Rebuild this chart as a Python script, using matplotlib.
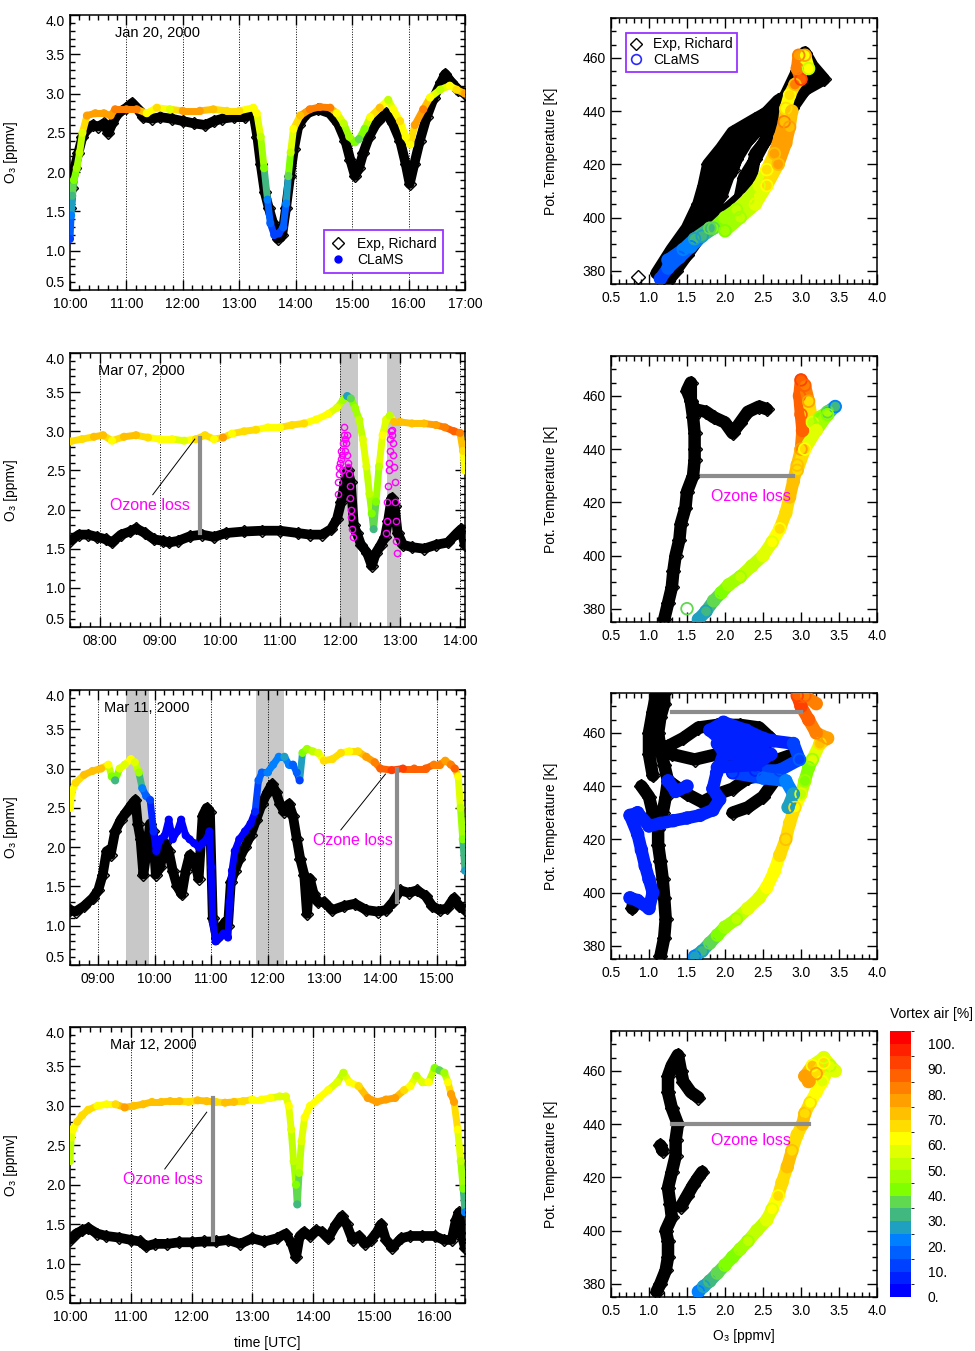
import numpy as np
import matplotlib
matplotlib.use('Agg')
import matplotlib.pyplot as plt
from matplotlib.collections import LineCollection
from matplotlib.colors import ListedColormap, BoundaryNorm
from matplotlib.cm import ScalarMappable
from matplotlib.lines import Line2D
from matplotlib.ticker import MultipleLocator, FuncFormatter, FormatStrFormatter

plt.rcParams['font.family'] = ['Liberation Sans', 'DejaVu Sans']
plt.rcParams['font.size'] = 10

nan = np.nan

# vortex air colour scale, 0..105 % in steps of 5
vortex_colors = ['#0000ff', '#0020ff', '#0040ff', '#0060ff', '#0080ff', '#20a0c0', '#40b880',
                 '#60d850', '#80ff00', '#a0ff00', '#c0ff00', '#e0ff00', '#ffff00', '#ffdd00',
                 '#ffc000', '#ffa000', '#ff8000', '#ff6000', '#ff4000', '#ff2000', '#ff0000']
vortex_bounds = [0, 5, 10, 15, 20, 25, 30, 35, 40, 45, 50, 55, 60, 65, 70, 75, 80, 85, 90, 95, 100, 105]
cbar_ticks = [0, 10, 20, 30, 40, 50, 60, 70, 80, 90, 100]

# ---------------- Jan 20, 2000 ----------------
jan_exp_t = [10.0, 10.03, 10.08, 10.15, 10.22, 10.3, 10.4, 10.5, 10.6, 10.68, 10.75, 10.85, 11.0, 11.1, 11.2,
             11.3, 11.45, 11.6, 11.8, 12.0, 12.2, 12.4, 12.55, 12.7, 12.9, 13.1, 13.25, 13.32, 13.38, 13.45,
             13.52, 13.6, 13.68, 13.76, 13.83, 13.9, 13.97, 14.05, 14.2, 14.4, 14.6, 14.75, 14.88, 14.97, 15.05,
             15.12, 15.2, 15.3, 15.45, 15.6, 15.72, 15.85, 15.95, 16.02, 16.1, 16.2, 16.32, 16.45, 16.58, 16.65,
             16.75, 16.88, 17.0]
jan_exp_o3 = [1.55, 1.8, 2.05, 2.25, 2.45, 2.55, 2.6, 2.58, 2.62, 2.5, 2.62, 2.75, 2.82, 2.88, 2.8,
              2.7, 2.68, 2.7, 2.68, 2.65, 2.62, 2.6, 2.65, 2.68, 2.7, 2.7, 2.75, 2.45, 2.1, 1.75,
              1.55, 1.35, 1.15, 1.2, 1.55, 1.95, 2.3, 2.6, 2.75, 2.8, 2.75, 2.62, 2.4, 2.15, 1.95,
              2.05, 2.25, 2.45, 2.65, 2.75, 2.62, 2.4, 2.1, 1.85, 2.1, 2.4, 2.7, 2.95, 3.15, 3.25,
              3.15, 3.05, 3.0]
jan_mod_t = [10.0, 10.02, 10.04, 10.07, 10.12, 10.17, 10.22, 10.3, 10.45, 10.6, 10.72, 10.8, 11.0, 11.18, 11.36,
             11.54, 11.77, 12.0, 12.3, 12.54, 12.78, 13.0, 13.25, 13.31, 13.38, 13.44, 13.5, 13.55, 13.62, 13.7,
             13.78, 13.83, 13.87, 13.91, 13.96, 14.08, 14.25, 14.43, 14.61, 14.73, 14.85, 14.95, 15.05, 15.12, 15.22,
             15.32, 15.49, 15.64, 15.73, 15.85, 15.95, 16.03, 16.11, 16.26, 16.38, 16.56, 16.73, 16.85, 17.0]
jan_mod_o3 = [1.15, 1.45, 1.7, 1.9, 2.05, 2.25, 2.5, 2.72, 2.75, 2.75, 2.72, 2.8, 2.8, 2.8, 2.75,
              2.82, 2.8, 2.78, 2.78, 2.8, 2.78, 2.78, 2.82, 2.75, 2.45, 2.05, 1.65, 1.35, 1.2, 1.22,
              1.3, 1.6, 1.95, 2.25, 2.55, 2.72, 2.8, 2.83, 2.82, 2.75, 2.62, 2.45, 2.38, 2.42, 2.55,
              2.7, 2.82, 2.92, 2.8, 2.65, 2.45, 2.35, 2.6, 2.8, 2.95, 3.05, 3.1, 3.05, 3.0]
jan_mod_vx = [12, 20, 30, 40, 45, 50, 58, 75, 75, 75, 75, 80, 80, 80, 60,
              65, 55, 75, 75, 70, 65, 65, 62, 60, 52, 42, 22, 15, 10, 10,
              15, 22, 35, 50, 60, 72, 80, 82, 80, 60, 50, 45, 40, 38, 42,
              60, 72, 50, 60, 65, 62, 60, 75, 82, 62, 50, 60, 65, 75]
jan_exp_prof_o3 = [1.1, 1.3, 1.5, 1.65, 1.72, 1.78, 1.95, 2.1, 2.4, 2.65, 2.8, 2.95, 3.0, 3.05, 3.15, 3.3,
                   3.05, 2.88, 2.62, 2.4, 2.35, 2.3, 2.1, 1.9, 1.7, 1.5, 1.35, 1.25, nan,
                   1.3, 1.55, 1.75, 1.95, 2.05, 2.15, 2.3, 2.5, 2.75, 2.95, 3.15, nan,
                   1.85, 2.1, 2.2, 2.4, nan,
                   1.7, 1.8, 1.85, 2.0, 2.25, 2.5, 2.7, nan,
                   2.2, 2.25, 2.4, 2.55, 2.7, nan, 0.85]
jan_exp_prof_th = [379, 388, 396, 405, 412, 420, 426, 432, 437, 441, 446, 455, 460, 462, 457, 452,
                   448, 441, 432, 424, 416, 410, 405, 400, 394, 386, 380, 376, nan,
                   381, 391, 400, 408, 416, 422, 429, 435, 442, 449, 452, nan,
                   412, 418, 426, 432, nan,
                   402, 409, 415, 422, 430, 438, 444, nan,
                   408, 415, 422, 430, 436, nan, 377.5]
jan_mod_prof_o3 = [1.15, 1.25, 1.4, 1.55, 1.7, 1.85, 2.0, 2.15, 2.3, 2.45, 2.55, 2.65, 2.72, 2.78,
                   2.8, 2.85, 2.92, 3.0, 2.95, 2.97, 3.05, 3.1, nan, 2.0, 2.2, 2.4, 2.55, 2.7,
                   2.8, 2.85, 2.88, nan, 1.25, 1.45, 1.6, 1.8]
jan_mod_prof_th = [377, 381, 385, 389, 393, 396, 400, 403, 407, 412, 418, 424, 430, 436,
                   441, 446, 450, 452, 456, 461, 461, 456, nan, 395, 400, 405, 412, 420,
                   428, 434, 440, nan, 384, 388, 392, 396]
jan_mod_prof_vx = [12, 15, 18, 20, 28, 38, 45, 48, 52, 55, 62, 72, 78, 80,
                   65, 62, 70, 90, 80, 80, 75, 50, nan, 42, 48, 55, 60, 72,
                   78, 78, 70, nan, 15, 20, 25, 35]

# ---------------- Mar 07, 2000 ----------------
m07_exp_t = [7.5, 7.65, 7.8, 7.95, 8.1, 8.2, 8.35, 8.5, 8.6, 8.75, 8.9, 9.05, 9.15, 9.3, 9.5, 9.7, 9.9,
             10.1, 10.4, 10.7, 11.0, 11.3, 11.5, 11.7, 11.85, 11.95, 12.02, 12.08, 12.13, 12.18, 12.23,
             12.28, 12.35, 12.45, 12.53, 12.6, 12.68, 12.75, 12.8, 12.86, 12.91, 12.96, 13.05, 13.2, 13.4,
             13.6, 13.8, 13.95, 14.02, 14.08]
m07_exp_o3 = [1.6, 1.68, 1.68, 1.65, 1.62, 1.58, 1.68, 1.72, 1.76, 1.7, 1.62, 1.6, 1.58, 1.6, 1.66, 1.68, 1.65,
              1.7, 1.72, 1.73, 1.73, 1.7, 1.68, 1.68, 1.75, 1.88, 2.1, 2.35, 2.5, 2.35, 1.8,
              1.7, 1.55, 1.45, 1.28, 1.45, 1.55, 1.65, 1.85, 2.15, 2.05, 1.7, 1.55, 1.52, 1.5,
              1.55, 1.58, 1.7, 1.75, 1.55]
m07_mod_t = [7.5, 7.7, 7.9, 8.05, 8.2, 8.4, 8.6, 8.8, 9.0, 9.2, 9.4, 9.6, 9.75, 9.9, 10.05, 10.2, 10.4,
             10.6, 10.8, 11.0, 11.2, 11.4, 11.6, 11.8, 11.95, 12.05, 12.12, 12.18, 12.25, 12.32, 12.38,
             12.44, 12.49, 12.53, 12.56, 12.6, 12.65, 12.71, 12.77, 12.83, 12.9, 13.0, 13.2, 13.4, 13.6,
             13.75, 13.9, 14.0, 14.05, 14.08]
m07_mod_o3 = [2.87, 2.9, 2.93, 2.95, 2.88, 2.93, 2.95, 2.92, 2.9, 2.9, 2.88, 2.9, 2.95, 2.9, 2.92, 2.97, 3.0,
              3.02, 3.05, 3.05, 3.08, 3.1, 3.15, 3.22, 3.3, 3.4, 3.45, 3.42, 3.3, 3.15, 2.9,
              2.55, 2.2, 1.95, 1.75, 2.1, 2.55, 2.95, 3.15, 3.2, 3.12, 3.12, 3.1, 3.1, 3.08,
              3.05, 3.0, 2.98, 2.75, 2.5]
m07_mod_vx = [65, 68, 70, 72, 62, 70, 72, 65, 60, 60, 58, 65, 68, 62, 75, 62, 68,
              65, 62, 62, 68, 65, 62, 60, 58, 48, 25, 38, 45, 50, 55,
              55, 50, 40, 30, 42, 50, 60, 55, 52, 70, 72, 72, 72, 78,
              82, 88, 82, 65, 60]
m07_pas_t = [11.96, 11.97, 11.98, 11.99, 12.0, 12.01, 12.02, 12.03, 12.04, 12.05, 12.06, 12.07, 12.08,
             12.09, 12.1, 12.11, 12.12, 12.13, 12.14, 12.15, 12.16, 12.17, 12.18, 12.19, 12.2, 12.21,
             12.77, 12.78, 12.79, 12.8, 12.81, 12.82, 12.83, 12.84, 12.85, 12.86, 12.87, 12.88, 12.89,
             12.9, 12.91, 12.92, 12.93, 12.94, 12.95]
m07_pas_o3 = [2.2, 2.35, 2.55, 2.45, 2.6, 2.75, 2.65, 2.5, 2.7, 2.85, 2.95, 3.05, 2.9,
              2.75, 2.85, 2.95, 2.7, 2.55, 2.6, 2.45, 2.3, 2.15, 2.0, 1.9, 1.75, 1.65,
              1.7, 1.85, 2.1, 2.3, 2.5, 2.6, 2.75, 2.9, 3.0, 2.95, 3.02, 2.85, 2.7,
              2.55, 2.35, 2.1, 1.85, 1.6, 1.45]
m07_exp_prof_o3 = [1.2, 1.25, 1.3, 1.32, 1.35, 1.4, 1.42, 1.48, 1.5, 1.58, 1.6, 1.6, 1.6, 1.58, 1.55, 1.55,
                   1.5, 1.6, 1.75, 1.85, 2.0, 2.1, 2.2, 2.3, 2.45, 2.55]
m07_exp_prof_th = [376, 382, 388, 394, 400, 406, 412, 418, 424, 430, 436, 440, 446, 452, 458, 465,
                   462, 455, 454, 452, 450, 446, 450, 454, 456, 455]
m07_mod_prof_o3 = [1.65, 1.75, 1.85, 1.95, 2.05, 2.2, 2.35, 2.5, 2.62, 2.72, 2.8, 2.85, 2.9, 2.95, 3.0,
                   3.02, 3.0, 2.98, 3.0, 3.05, 3.1, 3.15, 3.25, 3.35, 3.45, 3.35, 3.2, 3.05, 2.95, nan, 1.5]
m07_mod_prof_th = [376, 379, 383, 386, 389, 392, 396, 400, 405, 410, 416, 422, 428, 434, 440,
                   447, 453, 460, 466, 464, 458, 450, 452, 454, 456, 453, 447, 440, 432, nan, 380]
m07_mod_prof_vx = [25, 28, 35, 40, 45, 48, 52, 55, 58, 62, 68, 70, 72, 72, 75,
                   85, 88, 88, 90, 88, 78, 55, 45, 35, 22, 40, 55, 62, 70, nan, 35]

# ---------------- Mar 11, 2000 ----------------
m11_exp_t = [8.5, 8.6, 8.75, 8.9, 9.0, 9.08, 9.15, 9.22, 9.3, 9.4, 9.5, 9.6, 9.66, 9.7, 9.75, 9.8, 9.85,
             9.92, 9.97, 10.02, 10.1, 10.18, 10.25, 10.32, 10.4, 10.48, 10.55, 10.62, 10.7, 10.78, 10.85,
             10.92, 10.98, 11.03, 11.1, 11.18, 11.25, 11.3, 11.35, 11.42, 11.5, 11.6, 11.7, 11.8, 11.9,
             12.0, 12.08, 12.15, 12.22, 12.3, 12.38, 12.45, 12.52, 12.58, 12.65, 12.7, 12.75, 12.82, 12.9,
             13.0, 13.15, 13.35, 13.55, 13.75, 13.95, 14.1, 14.22, 14.35, 14.5, 14.65, 14.8, 14.92, 15.05,
             15.18, 15.3, 15.4, 15.5]
m11_exp_o3 = [1.2, 1.18, 1.25, 1.35, 1.45, 1.65, 1.95, 1.9, 2.2, 2.35, 2.45, 2.55, 2.6, 2.3, 2.1, 1.65, 1.9,
              2.3, 2.2, 1.65, 1.75, 2.05, 1.95, 1.7, 1.5, 1.4, 1.7, 1.9, 1.85, 1.6, 2.4,
              2.5, 2.45, 1.1, 0.85, 0.95, 1.05, 1.0, 1.55, 1.7, 1.85, 2.0, 2.15, 2.35, 2.55,
              2.7, 2.8, 2.7, 2.55, 2.45, 2.55, 2.4, 2.1, 1.85, 1.65, 1.15, 1.6, 1.4, 1.3,
              1.3, 1.2, 1.25, 1.28, 1.2, 1.18, 1.2, 1.3, 1.45, 1.42, 1.45, 1.38, 1.25, 1.2,
              1.22, 1.35, 1.25, 1.2]
m11_mod_t = [8.5, 8.53, 8.6, 8.75, 8.9, 9.05, 9.18, 9.24, 9.3, 9.38, 9.47, 9.58, 9.65, 9.72, 9.78, 9.85,
             9.92, 9.98, 10.03, 10.1, 10.18, 10.25, 10.32, 10.4, 10.47, 10.55, 10.62, 10.7, 10.78, 10.85,
             10.92, 10.97, 11.0, 11.03, 11.08, 11.15, 11.22, 11.3, 11.33, 11.37, 11.42, 11.5, 11.6, 11.7,
             11.78, 11.84, 11.9, 12.0, 12.1, 12.2, 12.3, 12.38, 12.45, 12.52, 12.57, 12.62, 12.7, 12.8,
             12.9, 13.0, 13.15, 13.3, 13.45, 13.6, 13.75, 13.9, 14.0, 14.2, 14.4, 14.6, 14.8, 14.95,
             15.05, 15.15, 15.25, 15.32, 15.38, 15.42, 15.46, 15.5]
m11_mod_o3 = [2.5, 2.7, 2.82, 2.92, 2.97, 3.0, 3.05, 2.9, 2.85, 3.0, 3.05, 3.12, 3.08, 2.95, 2.75, 2.65,
              2.6, 2.2, 1.95, 2.1, 2.15, 2.35, 2.1, 2.2, 2.35, 2.15, 2.1, 2.05, 2.0, 2.05,
              2.1, 2.2, 1.75, 1.05, 0.8, 0.85, 0.9, 0.85, 1.3, 1.7, 1.95, 2.1, 2.2, 2.3,
              2.45, 2.85, 2.95, 2.95, 3.05, 3.15, 3.15, 3.05, 3.05, 2.95, 2.85, 3.2, 3.25, 3.22,
              3.2, 3.1, 3.12, 3.2, 3.22, 3.22, 3.15, 3.08, 3.0, 2.98, 3.0, 3.0, 3.0, 3.05,
              3.05, 3.1, 3.05, 3.0, 2.9, 2.5, 2.1, 1.7]
m11_mod_vx = [60, 62, 65, 70, 72, 70, 60, 40, 30, 55, 58, 62, 55, 45, 20, 15,
              12, 5, 3, 3, 3, 3, 3, 3, 3, 3, 3, 3, 3, 3,
              3, 3, 3, 3, 3, 3, 3, 3, 3, 3, 3, 3, 3, 3,
              6, 15, 18, 20, 20, 22, 25, 20, 18, 15, 12, 40, 48, 52,
              58, 65, 68, 65, 62, 68, 75, 80, 85, 90, 90, 88, 88, 82,
              80, 78, 80, 85, 60, 50, 40, 25]
m11_exp_prof_o3 = [1.15, 1.2, 1.22, 1.2, 1.18, 1.15, 1.12, 1.12, 1.18, 1.22, 1.25, 1.2, 1.15, 1.12, 1.15, 1.2, 1.2, nan,
                   1.25, 1.45, 1.65, 1.9, 2.2, 2.45, 2.6, 2.5, 2.3, 2.1, 2.4, 2.7, 2.9, nan,
                   1.3, 1.5, 1.7, 1.9, 2.1, 2.3, 2.5, 2.65, 2.5, 2.3, 2.1, nan,
                   0.9, 1.0, 1.05, 1.0, nan, 0.78, 0.8, nan,
                   1.05, 1.0, 1.0, 1.05, 1.1, nan, 1.3, 1.6, 1.9, 2.1, 2.4, 2.6]
m11_exp_prof_th = [376, 383, 390, 398, 405, 412, 418, 424, 430, 436, 442, 448, 454, 460, 466, 471, 475, nan,
                   455, 458, 462, 463, 463, 462, 458, 454, 452, 455, 450, 450, 452, nan,
                   441, 437, 434, 437, 439, 443, 444, 442, 436, 432, 430, nan,
                   440, 436, 430, 426, nan, 394, 397, nan,
                   444, 452, 460, 468, 475, nan, 452, 450, 452, 448, 447, 447]
m11_mod_prof_o3 = [1.6, 1.7, 1.8, 1.9, 2.0, 2.15, 2.3, 2.45, 2.55, 2.65, 2.72, 2.8, 2.85, 2.92, 3.0, 3.05,
                   3.1, 3.15, 3.25, 3.35, 3.2, 3.1, 3.0, 2.95, 3.05, 3.2, nan,
                   0.75, 0.85, 1.0, 1.05, 1.0, 0.95, 0.9, 0.85, 0.75, 0.85, 1.0, 1.15, 1.32, 1.5, 1.67,
                   1.84, 1.93, 1.84, 1.89, 1.98, 2.0, 1.8, 1.98, 2.28, 2.5, 2.63, 2.9, 2.98, 2.72, 2.4,
                   2.1, 2.5, 2.8, 2.9, 2.83, nan,
                   1.9, 2.4, 2.6, 2.0, 1.9, 2.5, 2.3, 1.9, nan, 1.25, 1.35, 1.5]
m11_mod_prof_th = [376, 378, 381, 384, 387, 390, 394, 398, 402, 408, 414, 420, 426, 432, 437, 442,
                   447, 450, 456, 458, 460, 465, 470, 474, 474, 471, nan,
                   398, 397, 394, 400, 405, 410, 416, 422, 429, 430, 425, 426, 427, 428, 429,
                   431, 435, 439, 445, 452, 456, 461, 464, 461, 458, 457, 456, 450, 446, 446,
                   445, 443, 442, 437, 432, nan,
                   447, 448, 452, 452, 456, 455, 459, 460, nan, 442, 438, 440]
m11_mod_prof_vx = [22, 28, 35, 40, 45, 48, 55, 58, 60, 62, 65, 70, 68, 65, 55, 45,
                   40, 45, 65, 75, 80, 85, 90, 90, 88, 80, nan,
                   5, 5, 5, 5, 5, 5, 5, 5, 5, 5, 5, 5, 5, 5, 5,
                   5, 5, 5, 5, 5, 5, 5, 5, 5, 5, 5, 10, 15, 12, 8,
                   6, 15, 20, 25, 28, nan,
                   5, 5, 8, 5, 5, 8, 5, 5, nan, 5, 5, 5]

# ---------------- Mar 12, 2000 ----------------
m12_exp_t = [10.0, 10.1, 10.2, 10.3, 10.45, 10.6, 10.8, 11.0, 11.15, 11.25, 11.4, 11.6, 11.8, 12.0, 12.2,
             12.4, 12.6, 12.8, 13.0, 13.2, 13.4, 13.55, 13.65, 13.72, 13.78, 13.85, 13.95, 14.05, 14.15,
             14.25, 14.38, 14.47, 14.55, 14.65, 14.75, 14.85, 14.95, 15.05, 15.12, 15.2, 15.3, 15.45,
             15.6, 15.8, 16.0, 16.15, 16.28, 16.35, 16.4, 16.45, 16.5]
m12_exp_o3 = [1.3, 1.38, 1.42, 1.45, 1.38, 1.35, 1.33, 1.3, 1.28, 1.22, 1.25, 1.25, 1.27, 1.27, 1.28,
              1.28, 1.3, 1.25, 1.32, 1.28, 1.32, 1.38, 1.25, 1.08, 1.35, 1.4, 1.35, 1.42, 1.4,
              1.32, 1.5, 1.6, 1.5, 1.3, 1.35, 1.25, 1.3, 1.4, 1.5, 1.3, 1.2, 1.32,
              1.35, 1.35, 1.35, 1.3, 1.3, 1.55, 1.65, 1.35, 1.2]
m12_mod_t = [10.0, 10.02, 10.06, 10.12, 10.2, 10.3, 10.45, 10.6, 10.75, 10.9, 11.05, 11.2, 11.35, 11.5,
             11.65, 11.8, 11.95, 12.1, 12.25, 12.4, 12.55, 12.7, 12.85, 13.0, 13.15, 13.3, 13.45, 13.55,
             13.6, 13.64, 13.68, 13.72, 13.74, 13.77, 13.81, 13.86, 13.95, 14.1, 14.25, 14.4, 14.5, 14.6,
             14.75, 14.9, 15.05, 15.2, 15.35, 15.5, 15.6, 15.7, 15.8, 15.9, 16.0, 16.08, 16.16, 16.22,
             16.27, 16.32, 16.38, 16.43, 16.47, 16.5]
m12_mod_o3 = [2.3, 2.6, 2.72, 2.8, 2.88, 2.95, 3.0, 3.02, 3.02, 2.98, 3.0, 3.02, 3.05, 3.05,
              3.06, 3.06, 3.05, 3.07, 3.06, 3.05, 3.04, 3.05, 3.06, 3.08, 3.08, 3.1, 3.12, 3.12,
              3.0, 2.7, 2.3, 2.0, 1.75, 2.15, 2.55, 2.85, 3.0, 3.1, 3.2, 3.3, 3.42, 3.3,
              3.25, 3.1, 3.05, 3.08, 3.1, 3.2, 3.25, 3.38, 3.3, 3.3, 3.48, 3.45, 3.42, 3.3,
              3.15, 3.05, 2.7, 2.3, 1.95, 1.65]
m12_mod_vx = [50, 58, 62, 65, 66, 68, 62, 60, 65, 75, 70, 70, 72, 70,
              72, 70, 68, 70, 72, 68, 70, 70, 68, 62, 62, 60, 58, 58,
              60, 55, 50, 42, 30, 45, 55, 60, 60, 62, 62, 55, 52, 60,
              68, 78, 78, 78, 75, 65, 62, 52, 58, 60, 40, 38, 45, 60,
              75, 75, 60, 50, 40, 22]
m12_exp_prof_o3 = [1.1, 1.15, 1.22, 1.25, 1.25, 1.22, 1.3, 1.28, 1.25, 1.3, 1.35, 1.35, 1.38, 1.3, 1.25,
                   1.25, 1.3, 1.38, 1.42, 1.45, 1.55, 1.65, nan, 1.42, 1.5, 1.58, 1.65, 1.7, nan, 1.15, 1.18]
m12_exp_prof_th = [377, 380, 385, 390, 396, 400, 405, 410, 416, 422, 428, 434, 440, 446, 452,
                   458, 462, 466, 460, 456, 452, 450, nan, 409, 413, 417, 420, 422, nan, 432, 430]
m12_mod_prof_o3 = [1.65, 1.72, 1.8, 1.9, 2.0, 2.1, 2.2, 2.3, 2.42, 2.55, 2.62, 2.7, 2.75, 2.82, 2.88,
                   2.95, 3.02, 3.05, 3.12, 3.2, 3.28, 3.38, 3.45, 3.3, 3.15, 3.05, 3.1, 3.2, 3.3]
m12_mod_prof_th = [377, 379, 381, 384, 387, 390, 393, 396, 400, 404, 408, 413, 418, 424, 430,
                   436, 440, 444, 448, 452, 456, 462, 460, 465, 462, 458, 456, 459, 463]
m12_mod_prof_vx = [20, 25, 30, 35, 40, 42, 45, 48, 52, 55, 58, 62, 68, 70, 70,
                   68, 70, 72, 65, 62, 60, 52, 58, 55, 62, 78, 78, 75, 60]

# per-flight annotations
dates = ['Jan 20, 2000', 'Mar 07, 2000', 'Mar 11, 2000', 'Mar 12, 2000']
date_x = [0.114, 0.071, 0.086, 0.101]
time_ranges = [(10.0, 17.0), (7.5, 14.083), (8.5, 15.5), (10.0, 16.5)]
shaded = [[], [(12.0, 12.3), (12.78, 13.0)], [(9.5, 9.9), (11.8, 12.3)], []]
loss_time = [None, (9.67, 2.92, 1.7), (14.29, 3.0, 1.3), (12.36, 3.1, 1.3)]
loss_label = [None, (8.17, 2.05), (12.81, 2.08), (10.87, 2.06)]
loss_leader = [None, (8.88, 2.19, 9.58, 2.9), (13.3, 2.22, 14.09, 2.93), (11.56, 2.2, 12.25, 2.92)]
loss_theta = [None, (430, 1.7, 2.9), (468, 1.3, 3.0), (440, 1.3, 3.1)]
loss_theta_label = [None, (1.81, 422), None, (1.81, 434)]

flights = [
    dict(et=jan_exp_t, eo=jan_exp_o3, mt=jan_mod_t, mo=jan_mod_o3, mv=jan_mod_vx,
         pe=(jan_exp_prof_o3, jan_exp_prof_th), pm=(jan_mod_prof_o3, jan_mod_prof_th, jan_mod_prof_vx)),
    dict(et=m07_exp_t, eo=m07_exp_o3, mt=m07_mod_t, mo=m07_mod_o3, mv=m07_mod_vx,
         pe=(m07_exp_prof_o3, m07_exp_prof_th), pm=(m07_mod_prof_o3, m07_mod_prof_th, m07_mod_prof_vx)),
    dict(et=m11_exp_t, eo=m11_exp_o3, mt=m11_mod_t, mo=m11_mod_o3, mv=m11_mod_vx,
         pe=(m11_exp_prof_o3, m11_exp_prof_th), pm=(m11_mod_prof_o3, m11_mod_prof_th, m11_mod_prof_vx)),
    dict(et=m12_exp_t, eo=m12_exp_o3, mt=m12_mod_t, mo=m12_mod_o3, mv=m12_mod_vx,
         pe=(m12_exp_prof_o3, m12_exp_prof_th), pm=(m12_mod_prof_o3, m12_mod_prof_th, m12_mod_prof_vx)),
]

cmap = ListedColormap(vortex_colors)
norm = BoundaryNorm(vortex_bounds, cmap.N)
MAGENTA = '#ff00ff'
LOSS_GREY = '#8c8c8c'

W, H = 975, 1351
fig = plt.figure(figsize=(W / 100, H / 100), dpi=100)


def px_axes(l, t, r, b):
    return fig.add_axes([l / W, 1 - b / H, (r - l) / W, (b - t) / H])


def colored_track(ax, x, y, v, lw, size, filled):
    x = np.asarray(x, float)
    y = np.asarray(y, float)
    v = np.asarray(v, float)
    assert len(x) == len(y) == len(v), (len(x), len(y), len(v))
    pts = np.column_stack([x, y])
    segs = np.stack([pts[:-1], pts[1:]], axis=1)
    ok = np.isfinite(segs).all(axis=(1, 2))
    mid = (v[:-1] + v[1:]) / 2
    lc = LineCollection(segs[ok], colors=cmap(norm(mid[ok])), linewidths=lw,
                        capstyle='round', joinstyle='round', zorder=3)
    ax.add_collection(lc)
    good = np.isfinite(x) & np.isfinite(y)
    cols = cmap(norm(v[good]))
    if filled:
        ax.scatter(x[good], y[good], s=size, c=cols, edgecolors='none', zorder=3)
    else:
        ax.scatter(x[good], y[good], s=size, facecolors='none', edgecolors=cols,
                   linewidths=1.3, zorder=3)


def exp_track(ax, x, y, lw, ms):
    assert len(x) == len(y), (len(x), len(y))
    ax.plot(x, y, color='k', lw=lw, solid_capstyle='round', solid_joinstyle='round', zorder=2)
    ax.plot(x, y, ls='none', marker='D', ms=ms, mfc='none', mec='k', mew=1.0, zorder=2)


def style_axes(ax):
    ax.tick_params(which='both', direction='in', top=True, right=True, labelsize=10, width=1.0)
    ax.tick_params(which='major', length=7)
    ax.tick_params(which='minor', length=3.5)
    ax.tick_params(axis='x', which='both', pad=5)
    for s in ax.spines.values():
        s.set_linewidth(1.1)


def hhmm(x, pos):
    m = int(round(x * 60))
    return '%02d:%02d' % (m // 60, m % 60)


left_boxes = [(70, 15, 465, 290), (70, 353, 465, 627), (70, 690, 465, 965), (70, 1027, 465, 1303)]
right_boxes = [(611, 18, 877, 284), (611, 356, 877, 622), (611, 693, 877, 959), (611, 1031, 877, 1297)]
o3_ticks = [0.5, 1.0, 1.5, 2.0, 2.5, 3.0, 3.5, 4.0]

for i, f in enumerate(flights):
    # ---------- time series ----------
    ax = px_axes(*left_boxes[i])
    t0, t1 = time_ranges[i]
    for a, b in shaded[i]:
        ax.axvspan(a, b, color='#c8c8c8', lw=0, zorder=0)
    for h in range(int(np.ceil(t0 + 0.01)), int(np.floor(t1 - 0.01)) + 1):
        ax.axvline(h, color='k', ls=(0, (1, 1.6)), lw=0.7, zorder=1)
    exp_track(ax, f['et'], f['eo'], lw=7, ms=6)
    if i == 1:
        ax.plot(m07_pas_t, m07_pas_o3, ls='none', marker='o', ms=4.5,
                mfc='none', mec=MAGENTA, mew=1.0, zorder=2.5)
    colored_track(ax, f['mt'], f['mo'], f['mv'], lw=5, size=34, filled=True)
    if loss_time[i] is not None:
        lt, top, bot = loss_time[i]
        ax.plot([lt, lt], [top, bot], color=LOSS_GREY, lw=3, zorder=4)
        x0, y0, x1, y1 = loss_leader[i]
        ax.plot([x0, x1], [y0, y1], color='k', lw=0.7, zorder=4)
        ax.text(loss_label[i][0], loss_label[i][1], 'Ozone loss', color=MAGENTA,
                fontsize=11.5, va='center', ha='left', zorder=5)
    ax.text(date_x[i], 0.935, dates[i], transform=ax.transAxes, fontsize=10.5, va='center', ha='left')
    ax.set_xlim(t0, t1)
    ax.set_ylim(0.5, 4.0)
    ax.xaxis.set_major_locator(MultipleLocator(1))
    ax.xaxis.set_minor_locator(MultipleLocator(1 / 6))
    ax.xaxis.set_major_formatter(FuncFormatter(hhmm))
    ax.set_yticks(o3_ticks)
    ax.yaxis.set_minor_locator(MultipleLocator(0.1))
    ax.yaxis.set_major_formatter(FormatStrFormatter('%.1f'))
    style_axes(ax)
    yt = ax.yaxis.get_major_ticks()
    yt[0].label1.set_verticalalignment('bottom')
    yt[-1].label1.set_verticalalignment('top')
    ax.set_ylabel('O\u2083 [ppmv]', fontsize=10)
    ax.yaxis.set_label_coords(-0.132, 0.5)
    if i == 0:
        h1 = Line2D([], [], ls='none', marker='D', ms=6, mfc='none', mec='k', mew=1.0)
        h2 = Line2D([], [], ls='none', marker='o', ms=5, mfc='#0000ff', mec='#0000ff')
        leg = ax.legend([h1, h2], ['Exp, Richard', 'CLaMS'], loc='lower right',
                        bbox_to_anchor=(0.944, 0.062), fancybox=False, edgecolor='#9933ff',
                        framealpha=1, handlelength=1.0, handletextpad=0.9, borderpad=0.45,
                        labelspacing=0.15, fontsize=10, borderaxespad=0)
        leg.get_frame().set_linewidth(1.3)

    # ---------- theta profile ----------
    ax = px_axes(*right_boxes[i])
    exp_track(ax, f['pe'][0], f['pe'][1], lw=9, ms=7)
    colored_track(ax, f['pm'][0], f['pm'][1], f['pm'][2], lw=9, size=70, filled=False)
    if loss_theta[i] is not None:
        th, a, b = loss_theta[i]
        ax.plot([a, b], [th, th], color=LOSS_GREY, lw=3, zorder=4)
    if loss_theta_label[i] is not None:
        ax.text(loss_theta_label[i][0], loss_theta_label[i][1], 'Ozone loss', color=MAGENTA,
                fontsize=11.5, va='center', ha='left', zorder=5)
    ax.set_xlim(0.5, 4.0)
    ax.set_ylim(375, 475)
    ax.xaxis.set_major_locator(MultipleLocator(0.5))
    ax.xaxis.set_minor_locator(MultipleLocator(0.1))
    ax.xaxis.set_major_formatter(FormatStrFormatter('%.1f'))
    ax.yaxis.set_major_locator(MultipleLocator(20))
    ax.yaxis.set_minor_locator(MultipleLocator(5))
    style_axes(ax)
    ax.set_ylabel('Pot. Temperature [K]', fontsize=10)
    ax.yaxis.set_label_coords(-0.2, 0.5)
    if i == 0:
        h1 = Line2D([], [], ls='none', marker='D', ms=6, mfc='none', mec='k', mew=1.0)
        h2 = Line2D([], [], ls='none', marker='o', ms=7, mfc='none', mec='#2a2aff', mew=1.2)
        leg = ax.legend([h1, h2], ['Exp, Richard', 'CLaMS'], loc='upper left',
                        bbox_to_anchor=(0.056, 0.945), fancybox=False, edgecolor='#9933ff',
                        framealpha=1, handlelength=0.8, handletextpad=0.8, borderpad=0.35,
                        labelspacing=0.1, fontsize=10, borderaxespad=0)
        leg.get_frame().set_linewidth(1.3)

fig.text(267.5 / W, 1 - 1343 / H, 'time [UTC]', fontsize=10, ha='center', va='center')
fig.text(744 / W, 1 - 1336 / H, 'O\u2083 [ppmv]', fontsize=10, ha='center', va='center')

# colour bar
cax = px_axes(890, 1031, 911, 1297)
sm = ScalarMappable(norm=norm, cmap=cmap)
cb = fig.colorbar(sm, cax=cax, ticks=cbar_ticks)
cb.ax.set_yticklabels(['%d.' % v for v in cbar_ticks])
cb.outline.set_visible(False)
cax.tick_params(length=0, pad=12, labelsize=10)
fig.text(932 / W, 1 - 1014 / H, 'Vortex air [%]', fontsize=10, ha='center', va='center')

fig.savefig('out.png', dpi=100)
